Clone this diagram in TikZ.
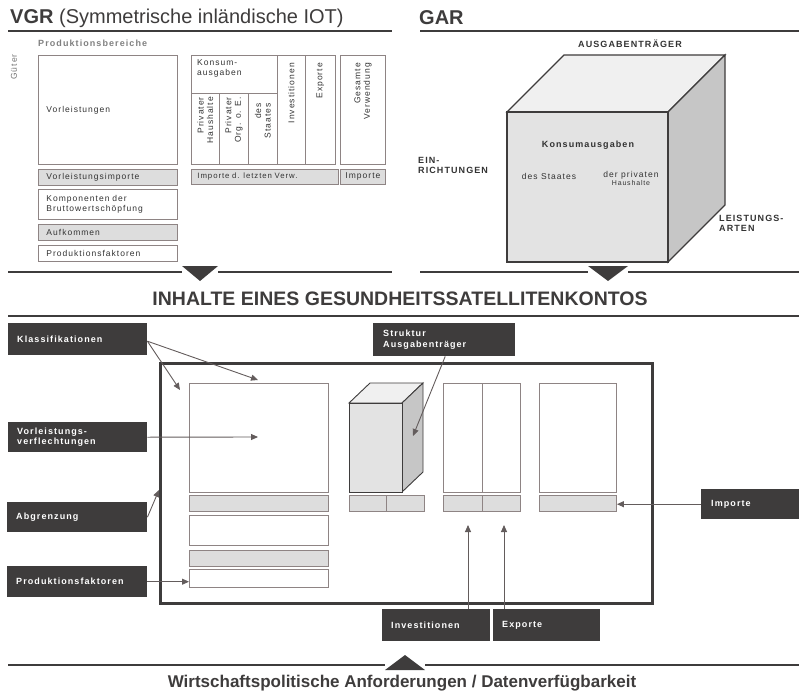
\documentclass[tikz,border=0pt]{standalone}
\usepackage{fontspec}
\setmainfont{Liberation Sans}
\newfontfamily\weit[LetterSpace=12]{Liberation Sans}
\usetikzlibrary{positioning, arrows.meta}
\definecolor{dunkel}{HTML}{3E3C3C}
\definecolor{rahmen}{HTML}{8E8484}
\definecolor{hell}{HTML}{DDDDDD}
\definecolor{schrift}{HTML}{333333}
\tikzset{
x=1pt, y=-1pt, % pixel units, y pointing down
zelle/.style={draw=rahmen, line width=0.9pt, fill=white, anchor=north west, inner sep=0pt, text=schrift, font=\weit\fontsize{8.5}{10}\selectfont}, % white table cells
grauzelle/.style={zelle, fill=hell}, % grey rows
etikett/.style={fill=dunkel, text=white, anchor=north west, inner sep=0pt, align=left, font=\weit\bfseries\fontsize{9}{10.5}\selectfont}, % dark label boxes
hochtext/.style={rotate=90, anchor=east, align=right, text=schrift, inner sep=0pt, font=\weit\fontsize{8.5}{9.5}\selectfont}, % rotated column heads
klein/.style={text=schrift, inner sep=0pt, font=\weit\bfseries\fontsize{9}{10}\selectfont},
pfeil/.style={draw=rahmen!70!black, line width=0.9pt, -{Triangle[length=7pt, width=6pt]}},
balken/.style={draw=dunkel, line width=2.6pt},
spitze/.style={fill=dunkel},
}
\begin{document}
\begin{tikzpicture}
\useasboundingbox (0,0) rectangle (799,695);

% ---------- VGR ----------
\node[anchor=west, inner sep=0pt, text=dunkel, font=\fontsize{20}{22}\selectfont] (vgr) at (10,18) {\textbf{VGR} (Symmetrische inländische IOT)};
\draw[balken] (8,31) -- (392,31);
\node[klein, anchor=west, text=gray] (pb) at (38,43) {Produktionsbereiche};
\node[klein, rotate=90, text=gray!90!black, font=\weit\fontsize{8.5}{9}\selectfont] (gu) at (14,67) {Güter};

\node[zelle, minimum width=139, minimum height=109, text width=123, inner xsep=8, align=left] (vl) at (38,55) {Vorleistungen};
\node[grauzelle, minimum width=139, minimum height=16, text width=123, inner xsep=8, align=left] (vli) at (38,169) {Vorleistungsimporte};
\node[zelle, minimum width=139, minimum height=30, text width=123, inner xsep=8, align=left] (kbw) at (38,189) {Komponenten der\\Bruttowertschöpfung};
\node[grauzelle, minimum width=139, minimum height=16, text width=123, inner xsep=8, align=left] (auf) at (38,224) {Aufkommen};
\node[zelle, minimum width=139, minimum height=16, text width=123, inner xsep=8, align=left] (pf) at (38,245) {Produktionsfaktoren};

\node[zelle, minimum width=86, minimum height=38] (ka) at (191,55) {};
\node[anchor=north west, align=left, inner sep=0pt, text=schrift, font=\weit\fontsize{8.5}{10}\selectfont] at ([shift={(6pt,-4pt)}]ka.north west) {Konsum-\\ausgaben};
\node[zelle, minimum width=28, minimum height=71] (ph) at (191,93) {};
\node[zelle, minimum width=29, minimum height=71] (po) at (219,93) {};
\node[zelle, minimum width=29, minimum height=71] (ds) at (248,93) {};
\node[zelle, minimum width=28, minimum height=109] (iv) at (277,55) {};
\node[zelle, minimum width=30, minimum height=109] (ex) at (305,55) {};
\node[zelle, minimum width=45, minimum height=109] (gv) at (340,55) {};
\node[hochtext] at ([yshift=-4pt]ph.north) {Privater\\Haushalte};
\node[hochtext] at ([yshift=-4pt]po.north) {Privater\\Org. o. E.};
\node[hochtext] at ([yshift=-10pt]ds.north) {des\\Staates};
\node[hochtext] at ([yshift=-8pt]iv.north) {Investitionen};
\node[hochtext] at ([yshift=-8pt]ex.north) {Exporte};
\node[hochtext] at ([yshift=-8pt]gv.north) {Gesamte\\Verwendung};
\node[grauzelle, minimum width=144, minimum height=15, text width=135, inner xsep=6, align=left, font=\weit\fontsize{7.8}{9}\selectfont] (ilv) at (191,169) {Importe d. letzten Verw.};
\node[grauzelle, minimum width=45, minimum height=15] (imp) at (340,169) {Importe};

\draw[balken] (8,272) -- (182,272);
\fill[spitze] (182,266) -- (218,266) -- (200,281) -- cycle;
\draw[balken] (218,272) -- (392,272);

% ---------- GAR ----------
\node[anchor=west, inner sep=0pt, text=dunkel, font=\bfseries\fontsize{20}{22}\selectfont] (gar) at (419,18) {GAR};
\draw[balken] (420,31) -- (799,31);
\node[klein] (at) at (630,44) {AUSGABENTRÄGER};
\fill[gray!12, draw=dunkel, line width=1.2pt] (507,112) -- (564,55) -- (725,55) -- (668,112) -- cycle;
\fill[gray!45, draw=dunkel, line width=1.2pt] (668,112) -- (725,55) -- (725,205) -- (668,262) -- cycle;
\fill[gray!22, draw=dunkel, line width=1.2pt] (507,112) rectangle (668,262);
\node[klein] (kons) at (588,145) {Konsumausgaben};
\node[klein, font=\weit\fontsize{8.5}{10}\selectfont] (dst) at (549,176) {des Staates};
\node[klein, font=\weit\fontsize{8.5}{10}\selectfont] (dph) at (631,175) {der privaten};
\node[klein, font=\weit\fontsize{7}{8}\selectfont] at (dph.south) [anchor=north, yshift=-1pt] {Haushalte};
\node[klein, anchor=north west, align=left] (ein) at (418,157) {EIN-\\RICHTUNGEN};
\node[klein, anchor=north west, align=left] (la) at (719,215) {LEISTUNGS-\\ARTEN};

\draw[balken] (420,272) -- (588,272);
\fill[spitze] (588,266) -- (628,266) -- (608,281) -- cycle;
\draw[balken] (628,272) -- (799,272);

% ---------- Satellitenkonto ----------
\node[inner sep=0pt, text=dunkel, font=\bfseries\fontsize{19.5}{21}\selectfont] (titel) at (400,299) {INHALTE EINES GESUNDHEITSSATELLITENKONTOS};
\draw[balken] (8,316) -- (799,316);

\draw[draw=dunkel, line width=3pt] (160,363) rectangle (652,603);

\node[zelle, minimum width=139, minimum height=109] (gq) at (189,383) {};
\node[grauzelle, minimum width=139, minimum height=16] (g1) at (189,495) {};
\node[zelle, minimum width=139, minimum height=30] (g2) at (189,515) {};
\node[grauzelle, minimum width=139, minimum height=16] (g3) at (189,550) {};
\node[zelle, minimum width=139, minimum height=18] (g4) at (189,569) {};

\fill[gray!12, draw=dunkel, line width=0.9pt] (349,403) -- (370,383) -- (423,383) -- (402,403) -- cycle;
\fill[gray!45, draw=dunkel, line width=0.9pt] (402,403) -- (423,383) -- (423,472) -- (402,492) -- cycle;
\fill[gray!22, draw=dunkel, line width=0.9pt] (349,403) rectangle (402,492);
\coordinate (seite) at (413,436);
\node[grauzelle, minimum width=37, minimum height=16] (w1) at (349,495) {};
\node[grauzelle, minimum width=38, minimum height=16] (w2) at (386,495) {};

\node[zelle, minimum width=39, minimum height=109] (s1) at (443,383) {};
\node[zelle, minimum width=38, minimum height=109] (s2) at (482,383) {};
\node[grauzelle, minimum width=39, minimum height=16] (s1i) at (443,495) {};
\node[grauzelle, minimum width=38, minimum height=16] (s2i) at (482,495) {};

\node[zelle, minimum width=77, minimum height=109] (r1) at (539,383) {};
\node[grauzelle, minimum width=77, minimum height=16] (r1i) at (539,495) {};

% dark labels
\node[etikett, minimum width=130, minimum height=32, text width=121, inner xsep=9] (kl) at (8,323) {Klassifikationen};
\node[etikett, minimum width=130, minimum height=30, text width=121, inner xsep=9] (vv) at (8,422) {Vorleistungs-\\verflechtungen};
\node[etikett, minimum width=131, minimum height=30, text width=122, inner xsep=9] (ab) at (7,502) {Abgrenzung};
\node[etikett, minimum width=131, minimum height=31, text width=122, inner xsep=9] (pfl) at (7,566) {Produktionsfaktoren};
\node[etikett, minimum width=133, minimum height=33, text width=122, inner xsep=10] (sa) at (373,323) {Struktur\\Ausgabenträger};
\node[etikett, minimum width=100, minimum height=32, text width=90, inner xsep=9] (inv) at (382,609) {Investitionen};
\node[etikett, minimum width=99, minimum height=32, text width=89, inner xsep=9] (exl) at (493,609) {Exporte};
\node[etikett, minimum width=98, minimum height=30, text width=88, inner xsep=10] (iml) at (701,489) {Importe};

% arrows
\coordinate (kz1) at (258,380);
\coordinate (kz2) at (180,390);
\coordinate (vz) at (258,437);
\coordinate (az) at (159,490);
\coordinate (iz) at (468,525);
\coordinate (ez) at (504,525);
\draw[pfeil] ([yshift=-2pt]kl.east) -- (kz1);
\draw[pfeil] ([yshift=-2pt]kl.east) -- (kz2);
\draw[pfeil] (vv.east) -- (vz);
\draw[pfeil] (ab.east) -- (az);
\draw[pfeil] (pfl.east) -- (g4.west |- pfl.east);
\draw[pfeil] ([xshift=1pt]sa.south) -- (seite);
\draw[pfeil] (iml.west) -- (r1i.east |- iml.west);
\draw[pfeil] (inv.north -| iz) -- (iz);
\draw[pfeil] (exl.north -| ez) -- (ez);

% ---------- bottom ----------
\draw[balken] (8,665) -- (385,665);
\fill[spitze] (385,670) -- (425,670) -- (405,655) -- cycle;
\draw[balken] (425,665) -- (799,665);
\node[inner sep=0pt, text=dunkel, font=\bfseries\fontsize{17}{19}\selectfont] (anf) at (402,683) {Wirtschaftspolitische Anforderungen / Datenverfügbarkeit};
\end{tikzpicture}
\end{document}
